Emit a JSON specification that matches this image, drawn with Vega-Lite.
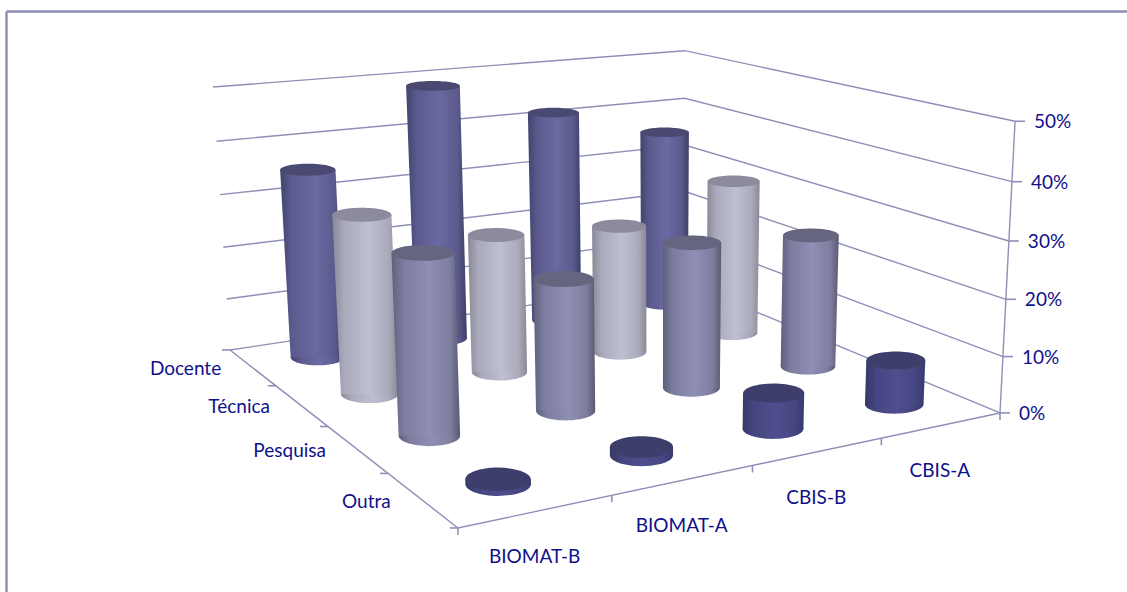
{
  "$schema": "https://vega.github.io/schema/vega-lite/v6.json",
  "width": 1121,
  "height": 581,
  "padding": {"left": 6, "top": 11, "right": 0, "bottom": 0},
  "autosize": {"type": "none"},
  "background": "white",
  "view": {"stroke": null},
  "config": {
    "font": "Lato",
    "axis": {"ticks": false, "labels": false, "grid": false, "domainColor": "#8c8cb6", "domainWidth": 2.4}
  },
  "layer": [
    {
      "data": {"values": [
        {"edge": "back", "pct": 0},
        {"edge": "back", "pct": 10},
        {"edge": "back", "pct": 20},
        {"edge": "back", "pct": 30},
        {"edge": "back", "pct": 40},
        {"edge": "back", "pct": 50},
        {"edge": "front", "pct": 0}
      ]},
      "transform": [
        {"calculate": "0", "as": "p0"},
        {"calculate": "1", "as": "p1"},
        {"calculate": "2", "as": "p2"},
        {"fold": ["p0", "p1", "p2"], "as": ["corner", "i"]},
        {"calculate": "datum.edge=='back' ? (datum.i>=1?1:0) : (datum.i==2?1:0)", "as": "u"},
        {"calculate": "datum.edge=='back' ? (datum.i==2?1:0) : (datum.i>=1?1:0)", "as": "v"},
        {"calculate": "datum.pct/50", "as": "w"},
        {"calculate": "1+0.143*datum.u-0.2458*datum.v-0.03804*datum.w", "as": "D"},
        {"calculate": "(551.8*datum.u+115.4*datum.v-25.11*datum.w+230)/datum.D", "as": "px"},
        {"calculate": "(-27.7*datum.u+48.2*datum.v-266.3*datum.w+350)/datum.D", "as": "py"},
        {"calculate": "datum.edge+datum.pct", "as": "path"}
      ],
      "mark": {"type": "line", "stroke": "#8f8fb8", "strokeWidth": 1.4},
      "encoding": {
        "x": {"field": "px", "type": "quantitative", "title": null, "axis": {"orient": "top"}, "scale": {"domain": [6, 1127], "nice": false, "zero": false}},
        "y": {"field": "py", "type": "quantitative", "title": null, "scale": {"domain": [592, 11], "nice": false, "zero": false}},
        "detail": {"field": "path", "type": "nominal"},
        "order": {"field": "i", "type": "quantitative"}
      }
    },
    {
      "data": {"values": [
        {"pct": 0}, {"pct": 10}, {"pct": 20}, {"pct": 30}, {"pct": 40}, {"pct": 50}
      ]},
      "transform": [
        {"calculate": "datum.pct/50", "as": "w"},
        {"calculate": "1+0.143-0.2458-0.03804*datum.w", "as": "D"},
        {"calculate": "(551.8+115.4-25.11*datum.w+230)/datum.D", "as": "px"},
        {"calculate": "(-27.7+48.2-266.3*datum.w+350)/datum.D", "as": "py"},
        {"calculate": "datum.px+10", "as": "tickEnd"},
        {"calculate": "datum.pct+'%'", "as": "label"}
      ],
      "encoding": {
        "x": {"field": "px", "type": "quantitative", "title": null, "axis": {"orient": "top"}, "scale": {"domain": [6, 1127], "nice": false, "zero": false}},
        "y": {"field": "py", "type": "quantitative", "title": null, "scale": {"domain": [592, 11], "nice": false, "zero": false}}
      },
      "layer": [
        {"mark": {"type": "line", "stroke": "#8f8fb8", "strokeWidth": 1.4}, "encoding": {"order": {"field": "pct", "type": "quantitative"}}},
        {"mark": {"type": "rule", "stroke": "#8f8fb8", "strokeWidth": 1.6}, "encoding": {"x2": {"field": "tickEnd"}}},
        {"mark": {"type": "text", "align": "left", "baseline": "middle", "dx": 19, "dy": 1, "fontSize": 19, "font": "Lato", "fill": "#10108a"}, "encoding": {"text": {"field": "label", "type": "nominal"}}}
      ]
    },
    {
      "data": {"values": [
        {"axis": "funcao", "n": 0}, {"axis": "funcao", "n": 1}, {"axis": "funcao", "n": 2}, {"axis": "funcao", "n": 3}, {"axis": "funcao", "n": 4},
        {"axis": "curso", "n": 0}, {"axis": "curso", "n": 1}, {"axis": "curso", "n": 2}, {"axis": "curso", "n": 3}, {"axis": "curso", "n": 4}
      ]},
      "transform": [
        {"calculate": "datum.axis=='curso' ? datum.n/4 : 0", "as": "u"},
        {"calculate": "datum.axis=='curso' ? 1 : datum.n/4", "as": "v"},
        {"calculate": "1+0.143*datum.u-0.2458*datum.v", "as": "D"},
        {"calculate": "(551.8*datum.u+115.4*datum.v+230)/datum.D", "as": "px"},
        {"calculate": "(-27.7*datum.u+48.2*datum.v+350)/datum.D", "as": "py"},
        {"calculate": "datum.axis=='curso' ? datum.px : datum.px-8", "as": "tx"},
        {"calculate": "datum.axis=='curso' ? datum.py+7 : datum.py", "as": "ty"}
      ],
      "mark": {"type": "rule", "stroke": "#8f8fb8", "strokeWidth": 1.6},
      "encoding": {
        "x": {"field": "px", "type": "quantitative", "title": null, "axis": {"orient": "top"}, "scale": {"domain": [6, 1127], "nice": false, "zero": false}},
        "y": {"field": "py", "type": "quantitative", "title": null, "scale": {"domain": [592, 11], "nice": false, "zero": false}},
        "x2": {"field": "tx"},
        "y2": {"field": "ty"}
      }
    },
    {
      "data": {"values": [
        {"funcao": "Docente", "curso": "BIOMAT-B", "pct": 35.6},
        {"funcao": "Docente", "curso": "BIOMAT-A", "pct": 49},
        {"funcao": "Docente", "curso": "CBIS-B", "pct": 41.9},
        {"funcao": "Docente", "curso": "CBIS-A", "pct": 35.8},
        {"funcao": "Técnica", "curso": "BIOMAT-B", "pct": 32.1},
        {"funcao": "Técnica", "curso": "BIOMAT-A", "pct": 25.6},
        {"funcao": "Técnica", "curso": "CBIS-B", "pct": 24.3},
        {"funcao": "Técnica", "curso": "CBIS-A", "pct": 30.2},
        {"funcao": "Pesquisa", "curso": "BIOMAT-B", "pct": 30.8},
        {"funcao": "Pesquisa", "curso": "BIOMAT-A", "pct": 23.2},
        {"funcao": "Pesquisa", "curso": "CBIS-B", "pct": 26.4},
        {"funcao": "Pesquisa", "curso": "CBIS-A", "pct": 24.7},
        {"funcao": "Outra", "curso": "BIOMAT-B", "pct": 0.8},
        {"funcao": "Outra", "curso": "BIOMAT-A", "pct": 1.4},
        {"funcao": "Outra", "curso": "CBIS-B", "pct": 6.2},
        {"funcao": "Outra", "curso": "CBIS-A", "pct": 7.9}
      ]},
      "transform": [
        {"calculate": "((datum.curso=='BIOMAT-B'?0:datum.curso=='BIOMAT-A'?1:datum.curso=='CBIS-B'?2:3)+0.5)/4", "as": "u"},
        {"calculate": "((datum.funcao=='Docente'?0:datum.funcao=='Técnica'?1:datum.funcao=='Pesquisa'?2:3)+0.5)/4", "as": "v"},
        {"calculate": "0", "as": "base"},
        {"calculate": "1", "as": "top"},
        {"fold": ["base", "top"], "as": ["end", "t"]},
        {"calculate": "datum.t*datum.pct/50", "as": "w"},
        {"calculate": "1+0.143*datum.u-0.2458*datum.v-0.03804*datum.w", "as": "D"},
        {"calculate": "(551.8*datum.u+115.4*datum.v-25.11*datum.w+230)/datum.D", "as": "px"},
        {"calculate": "(-27.7*datum.u+48.2*datum.v-266.3*datum.w+350)/datum.D", "as": "py"},
        {"calculate": "58.4-32*datum.D", "as": "half"},
        {"calculate": "datum.px-datum.half", "as": "lo"},
        {"calculate": "datum.px+datum.half", "as": "hi"},
        {"calculate": "4*datum.half*datum.half", "as": "discSize"},
        {"calculate": "format(0.14+0.00045*datum.py,'.4f')", "as": "k"},
        {"calculate": "format(0.552*(0.14+0.00045*datum.py),'.4f')", "as": "q"},
        {"calculate": "'M-1,0C-1,-'+datum.q+' -0.552,-'+datum.k+' 0,-'+datum.k+'C0.552,-'+datum.k+' 1,-'+datum.q+' 1,0C1,'+datum.q+' 0.552,'+datum.k+' 0,'+datum.k+'C-0.552,'+datum.k+' -1,'+datum.q+' -1,0Z'", "as": "disc"}
      ],
      "encoding": {
        "y": {"field": "py", "type": "quantitative", "title": null, "scale": {"domain": [592, 11], "nice": false, "zero": false}}
      },
      "layer": [
        {
          "transform": [{"filter": "datum.funcao=='Docente'"}],
          "layer": [
            {"transform": [{"filter": "datum.t==0"}],
             "mark": {"type": "point", "filled": true, "opacity": 1, "strokeWidth": 0, "color": {"gradient": "linear", "x1": 0, "y1": 0, "x2": 1, "y2": 0, "stops": [{"offset": 0, "color": "#43436e"}, {"offset": 0.18, "color": "#5a5a8e"}, {"offset": 0.55, "color": "#6a6aa2"}, {"offset": 0.85, "color": "#5a5a8c"}, {"offset": 1, "color": "#3d3d66"}]}},
             "encoding": {"x": {"field": "px", "type": "quantitative", "title": null, "axis": {"orient": "top"}, "scale": {"domain": [6, 1127], "nice": false, "zero": false}}, "size": {"field": "discSize", "type": "quantitative", "scale": null}, "shape": {"field": "disc", "type": "nominal", "scale": null}}},
            {"mark": {"type": "area", "orient": "horizontal", "color": {"gradient": "linear", "x1": 0, "y1": 0, "x2": 1, "y2": 0, "stops": [{"offset": 0, "color": "#43436e"}, {"offset": 0.18, "color": "#5a5a8e"}, {"offset": 0.55, "color": "#6a6aa2"}, {"offset": 0.85, "color": "#5a5a8c"}, {"offset": 1, "color": "#3d3d66"}]}},
             "encoding": {"x": {"field": "lo", "type": "quantitative", "title": null, "axis": {"orient": "top"}, "scale": {"domain": [6, 1127], "nice": false, "zero": false}}, "x2": {"field": "hi"}, "detail": {"field": "curso", "type": "nominal"}}},
            {"transform": [{"filter": "datum.t==1"}],
             "mark": {"type": "point", "filled": true, "opacity": 1, "strokeWidth": 0, "color": "#494972"},
             "encoding": {"x": {"field": "px", "type": "quantitative", "title": null, "axis": {"orient": "top"}, "scale": {"domain": [6, 1127], "nice": false, "zero": false}}, "size": {"field": "discSize", "type": "quantitative", "scale": null}, "shape": {"field": "disc", "type": "nominal", "scale": null}}}
          ]
        },
        {
          "transform": [{"filter": "datum.funcao=='Técnica'"}],
          "layer": [
            {"transform": [{"filter": "datum.t==0"}],
             "mark": {"type": "point", "filled": true, "opacity": 1, "strokeWidth": 0, "color": {"gradient": "linear", "x1": 0, "y1": 0, "x2": 1, "y2": 0, "stops": [{"offset": 0, "color": "#888896"}, {"offset": 0.18, "color": "#aaaabc"}, {"offset": 0.55, "color": "#bfbfd3"}, {"offset": 0.85, "color": "#aaaabb"}, {"offset": 1, "color": "#888896"}]}},
             "encoding": {"x": {"field": "px", "type": "quantitative", "title": null, "axis": {"orient": "top"}, "scale": {"domain": [6, 1127], "nice": false, "zero": false}}, "size": {"field": "discSize", "type": "quantitative", "scale": null}, "shape": {"field": "disc", "type": "nominal", "scale": null}}},
            {"mark": {"type": "area", "orient": "horizontal", "color": {"gradient": "linear", "x1": 0, "y1": 0, "x2": 1, "y2": 0, "stops": [{"offset": 0, "color": "#888896"}, {"offset": 0.18, "color": "#aaaabc"}, {"offset": 0.55, "color": "#bfbfd3"}, {"offset": 0.85, "color": "#aaaabb"}, {"offset": 1, "color": "#888896"}]}},
             "encoding": {"x": {"field": "lo", "type": "quantitative", "title": null, "axis": {"orient": "top"}, "scale": {"domain": [6, 1127], "nice": false, "zero": false}}, "x2": {"field": "hi"}, "detail": {"field": "curso", "type": "nominal"}}},
            {"transform": [{"filter": "datum.t==1"}],
             "mark": {"type": "point", "filled": true, "opacity": 1, "strokeWidth": 0, "color": "#8b8b9d"},
             "encoding": {"x": {"field": "px", "type": "quantitative", "title": null, "axis": {"orient": "top"}, "scale": {"domain": [6, 1127], "nice": false, "zero": false}}, "size": {"field": "discSize", "type": "quantitative", "scale": null}, "shape": {"field": "disc", "type": "nominal", "scale": null}}}
          ]
        },
        {
          "transform": [{"filter": "datum.funcao=='Pesquisa'"}],
          "layer": [
            {"transform": [{"filter": "datum.t==0"}],
             "mark": {"type": "point", "filled": true, "opacity": 1, "strokeWidth": 0, "color": {"gradient": "linear", "x1": 0, "y1": 0, "x2": 1, "y2": 0, "stops": [{"offset": 0, "color": "#5f5f7c"}, {"offset": 0.18, "color": "#7d7da0"}, {"offset": 0.55, "color": "#8f8fb5"}, {"offset": 0.85, "color": "#7e7e9f"}, {"offset": 1, "color": "#5a5a72"}]}},
             "encoding": {"x": {"field": "px", "type": "quantitative", "title": null, "axis": {"orient": "top"}, "scale": {"domain": [6, 1127], "nice": false, "zero": false}}, "size": {"field": "discSize", "type": "quantitative", "scale": null}, "shape": {"field": "disc", "type": "nominal", "scale": null}}},
            {"mark": {"type": "area", "orient": "horizontal", "color": {"gradient": "linear", "x1": 0, "y1": 0, "x2": 1, "y2": 0, "stops": [{"offset": 0, "color": "#5f5f7c"}, {"offset": 0.18, "color": "#7d7da0"}, {"offset": 0.55, "color": "#8f8fb5"}, {"offset": 0.85, "color": "#7e7e9f"}, {"offset": 1, "color": "#5a5a72"}]}},
             "encoding": {"x": {"field": "lo", "type": "quantitative", "title": null, "axis": {"orient": "top"}, "scale": {"domain": [6, 1127], "nice": false, "zero": false}}, "x2": {"field": "hi"}, "detail": {"field": "curso", "type": "nominal"}}},
            {"transform": [{"filter": "datum.t==1"}],
             "mark": {"type": "point", "filled": true, "opacity": 1, "strokeWidth": 0, "color": "#65657f"},
             "encoding": {"x": {"field": "px", "type": "quantitative", "title": null, "axis": {"orient": "top"}, "scale": {"domain": [6, 1127], "nice": false, "zero": false}}, "size": {"field": "discSize", "type": "quantitative", "scale": null}, "shape": {"field": "disc", "type": "nominal", "scale": null}}}
          ]
        },
        {
          "transform": [{"filter": "datum.funcao=='Outra'"}],
          "layer": [
            {"transform": [{"filter": "datum.t==0"}],
             "mark": {"type": "point", "filled": true, "opacity": 1, "strokeWidth": 0, "color": {"gradient": "linear", "x1": 0, "y1": 0, "x2": 1, "y2": 0, "stops": [{"offset": 0, "color": "#38386a"}, {"offset": 0.18, "color": "#454580"}, {"offset": 0.55, "color": "#4f4f90"}, {"offset": 0.85, "color": "#454580"}, {"offset": 1, "color": "#393970"}]}},
             "encoding": {"x": {"field": "px", "type": "quantitative", "title": null, "axis": {"orient": "top"}, "scale": {"domain": [6, 1127], "nice": false, "zero": false}}, "size": {"field": "discSize", "type": "quantitative", "scale": null}, "shape": {"field": "disc", "type": "nominal", "scale": null}}},
            {"mark": {"type": "area", "orient": "horizontal", "color": {"gradient": "linear", "x1": 0, "y1": 0, "x2": 1, "y2": 0, "stops": [{"offset": 0, "color": "#38386a"}, {"offset": 0.18, "color": "#454580"}, {"offset": 0.55, "color": "#4f4f90"}, {"offset": 0.85, "color": "#454580"}, {"offset": 1, "color": "#393970"}]}},
             "encoding": {"x": {"field": "lo", "type": "quantitative", "title": null, "axis": {"orient": "top"}, "scale": {"domain": [6, 1127], "nice": false, "zero": false}}, "x2": {"field": "hi"}, "detail": {"field": "curso", "type": "nominal"}}},
            {"transform": [{"filter": "datum.t==1"}],
             "mark": {"type": "point", "filled": true, "opacity": 1, "strokeWidth": 0, "color": "#3e3e6c"},
             "encoding": {"x": {"field": "px", "type": "quantitative", "title": null, "axis": {"orient": "top"}, "scale": {"domain": [6, 1127], "nice": false, "zero": false}}, "size": {"field": "discSize", "type": "quantitative", "scale": null}, "shape": {"field": "disc", "type": "nominal", "scale": null}}}
          ]
        }
      ]
    },
    {
      "data": {"values": [
        {"curso": "BIOMAT-B"}, {"curso": "BIOMAT-A"}, {"curso": "CBIS-B"}, {"curso": "CBIS-A"}
      ]},
      "transform": [
        {"calculate": "((datum.curso=='BIOMAT-B'?0:datum.curso=='BIOMAT-A'?1:datum.curso=='CBIS-B'?2:3)+0.5)/4", "as": "u"},
        {"calculate": "1+0.143*datum.u-0.2458", "as": "D"},
        {"calculate": "(551.8*datum.u+115.4+230)/datum.D", "as": "px"},
        {"calculate": "(-27.7*datum.u+48.2+350)/datum.D", "as": "py"}
      ],
      "mark": {"type": "text", "align": "center", "baseline": "middle", "dx": -2, "dy": 46, "fontSize": 19, "font": "Lato", "fill": "#10108a"},
      "encoding": {
        "x": {"field": "px", "type": "quantitative", "title": null, "axis": {"orient": "top"}, "scale": {"domain": [6, 1127], "nice": false, "zero": false}},
        "y": {"field": "py", "type": "quantitative", "title": null, "scale": {"domain": [592, 11], "nice": false, "zero": false}},
        "text": {"field": "curso", "type": "nominal"}
      }
    },
    {
      "data": {"values": [
        {"funcao": "Docente"}, {"funcao": "Técnica"}, {"funcao": "Pesquisa"}, {"funcao": "Outra"}
      ]},
      "transform": [
        {"calculate": "((datum.funcao=='Docente'?0:datum.funcao=='Técnica'?1:datum.funcao=='Pesquisa'?2:3)+0.5)/4", "as": "v"},
        {"calculate": "1-0.2458*datum.v", "as": "D"},
        {"calculate": "(115.4*datum.v+230)/datum.D", "as": "px"},
        {"calculate": "(48.2*datum.v+350)/datum.D", "as": "py"}
      ],
      "mark": {"type": "text", "align": "right", "baseline": "middle", "dx": -31, "dy": 2, "fontSize": 19, "font": "Lato", "fill": "#10108a"},
      "encoding": {
        "x": {"field": "px", "type": "quantitative", "title": null, "axis": {"orient": "top"}, "scale": {"domain": [6, 1127], "nice": false, "zero": false}},
        "y": {"field": "py", "type": "quantitative", "title": null, "scale": {"domain": [592, 11], "nice": false, "zero": false}},
        "text": {"field": "funcao", "type": "nominal"}
      }
    }
  ]
}
